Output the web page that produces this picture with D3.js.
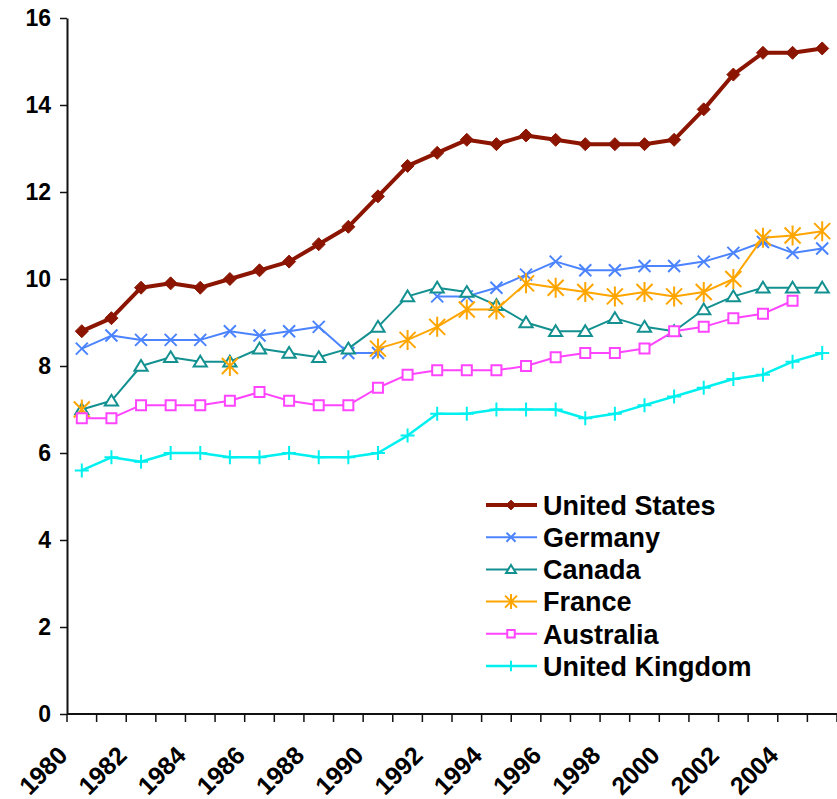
<!DOCTYPE html>
<html>
<head>
<meta charset="utf-8">
<script src="https://cdn.jsdelivr.net/npm/d3@7"></script>
<style>
  html, body { margin: 0; padding: 0; background: #fff; }
  svg { display: block; font-family: "Liberation Sans", Arial, sans-serif; }
</style>
</head>
<body>
<div id="graph"></div>
<script>
// categories
const years = [1980, 1981, 1982, 1983, 1984, 1985, 1986, 1987, 1988, 1989,
               1990, 1991, 1992, 1993, 1994, 1995, 1996, 1997, 1998, 1999,
               2000, 2001, 2002, 2003, 2004, 2005];
const yTicks = [0, 2, 4, 6, 8, 10, 12, 14, 16];
const yearLabels = [1980, 1982, 1984, 1986, 1988, 1990, 1992, 1994, 1996, 1998, 2000, 2002, 2004];

// series values (null = no value for that year)
const unitedStates = [8.8, 9.1, 9.8, 9.9, 9.8, 10.0, 10.2, 10.4, 10.8, 11.2, 11.9, 12.6, 12.9, 13.2, 13.1, 13.3, 13.2, 13.1, 13.1, 13.1, 13.2, 13.9, 14.7, 15.2, 15.2, 15.3];
const germany = [8.4, 8.7, 8.6, 8.6, 8.6, 8.8, 8.7, 8.8, 8.9, 8.3, 8.3, null, 9.6, 9.6, 9.8, 10.1, 10.4, 10.2, 10.2, 10.3, 10.3, 10.4, 10.6, 10.85, 10.6, 10.7];
const canada = [7.0, 7.2, 8.0, 8.2, 8.1, 8.1, 8.4, 8.3, 8.2, 8.4, 8.9, 9.6, 9.8, 9.7, 9.4, 9.0, 8.8, 8.8, 9.1, 8.9, 8.8, 9.3, 9.6, 9.8, 9.8, 9.8];
const france = [7.0, null, null, null, null, 8.0, null, null, null, null, 8.4, 8.6, 8.9, 9.3, 9.3, 9.9, 9.8, 9.7, 9.6, 9.7, 9.6, 9.7, 10.0, 10.95, 11.0, 11.1];
const australia = [6.8, 6.8, 7.1, 7.1, 7.1, 7.2, 7.4, 7.2, 7.1, 7.1, 7.5, 7.8, 7.9, 7.9, 7.9, 8.0, 8.2, 8.3, 8.3, 8.4, 8.8, 8.9, 9.1, 9.2, 9.5, null];
const unitedKingdom = [5.6, 5.9, 5.8, 6.0, 6.0, 5.9, 5.9, 6.0, 5.9, 5.9, 6.0, 6.4, 6.9, 6.9, 7.0, 7.0, 7.0, 6.8, 6.9, 7.1, 7.3, 7.5, 7.7, 7.8, 8.1, 8.3];

const width = 837, height = 799;
const margin = {top: 18, right: 0, bottom: 85, left: 67};

// marker shapes, s = half size
const markers = {
  diamond: s => `M0,${-s}L${s},0L0,${s}L${-s},0Z`,
  cross: s => `M${-s},${-s}L${s},${s}M${-s},${s}L${s},${-s}`,
  triangle: s => `M0,${-s}L${s * 1.1},${s * 0.8}L${-s * 1.1},${s * 0.8}Z`,
  star: s => `M${-s},${-s}L${s},${s}M${-s},${s}L${s},${-s}M0,${-s * 1.25}L0,${s * 1.25}`,
  square: s => `M${-s},${-s}H${s}V${s}H${-s}Z`,
  plus: s => `M${-s},0H${s}M0,${-s}V${s}`
};

const series = [
  {name: "United States", values: unitedStates, color: "#8B1500", width: 4, marker: "diamond", size: 6.5, fill: true},
  {name: "Germany", values: germany, color: "#4C84FF", width: 2, marker: "cross", size: 6, fill: false},
  {name: "Canada", values: canada, color: "#139090", width: 2, marker: "triangle", size: 6, fill: false},
  {name: "France", values: france, color: "#FFA500", width: 2, marker: "star", size: 8, fill: false},
  {name: "Australia", values: australia, color: "#FF44FF", width: 2, marker: "square", size: 5, fill: false},
  {name: "United Kingdom", values: unitedKingdom, color: "#00F0F0", width: 2.5, marker: "plus", size: 7, fill: false}
];

const svg = d3.select("#graph").append("svg")
  .attr("width", width)
  .attr("height", height);

const x = d3.scaleBand()
  .domain(years)
  .range([margin.left, width - margin.right]);

const y = d3.scaleLinear()
  .domain([0, 16])
  .range([height - margin.bottom, margin.top]);

const y0 = y(0);

// y axis
const yAxis = svg.append("g")
  .attr("transform", `translate(${margin.left},0)`)
  .call(d3.axisLeft(y).tickValues(yTicks).tickSize(7).tickSizeOuter(0).tickPadding(9));
yAxis.select(".domain").attr("stroke", "#111").attr("stroke-width", 2);
yAxis.selectAll(".tick line").attr("stroke", "#111").attr("stroke-width", 1.5);
yAxis.selectAll(".tick text")
  .attr("font-size", 23)
  .attr("font-weight", "bold")
  .attr("fill", "#000");

// x axis: ticks on the category boundaries
const xg = svg.append("g");
xg.append("line")
  .attr("x1", margin.left).attr("x2", width - margin.right)
  .attr("y1", y0).attr("y2", y0)
  .attr("stroke", "#111").attr("stroke-width", 2);

const edges = years.map(d => x(d)).concat([x(years[years.length - 1]) + x.bandwidth()]);
xg.selectAll(".xtick")
  .data(edges)
  .enter().append("line")
  .attr("class", "xtick")
  .attr("x1", d => d).attr("x2", d => d)
  .attr("y1", y0).attr("y2", y0 + 8)
  .attr("stroke", "#111").attr("stroke-width", 1.5);

xg.selectAll(".xlabel")
  .data(yearLabels)
  .enter().append("text")
  .attr("class", "xlabel")
  .attr("transform", d => `translate(${x(d) + 2},${y0 + 43}) rotate(-45)`)
  .attr("text-anchor", "end")
  .attr("font-size", 25)
  .attr("font-weight", "bold")
  .text(d => d);

// lines and markers
const cx = (d, i) => x(years[i]) + x.bandwidth() / 2;

series.forEach(s => {
  const line = d3.line()
    .defined(d => d != null)
    .x(cx)
    .y(d => y(d));

  svg.append("path")
    .datum(s.values)
    .attr("fill", "none")
    .attr("stroke", s.color)
    .attr("stroke-width", s.width)
    .attr("stroke-linejoin", "round")
    .attr("d", line);

  svg.append("g")
    .selectAll("path")
    .data(s.values.map((v, i) => ({v: v, i: i})).filter(d => d.v != null))
    .enter().append("path")
    .attr("transform", d => `translate(${cx(d.v, d.i)},${y(d.v)})`)
    .attr("d", markers[s.marker](s.size))
    .attr("fill", s.fill ? s.color : (s.marker === "triangle" || s.marker === "square" ? "#fff" : "none"))
    .attr("stroke", s.color)
    .attr("stroke-width", s.marker === "diamond" ? 1 : 2);
});

// legend
const legend = svg.append("g")
  .attr("transform", "translate(486,505)");

const item = legend.selectAll("g")
  .data(series)
  .enter().append("g")
  .attr("transform", (d, i) => `translate(0,${i * 32.2})`);

item.append("line")
  .attr("x1", 0).attr("x2", 51)
  .attr("stroke", d => d.color)
  .attr("stroke-width", d => d.width);

item.append("path")
  .attr("transform", "translate(25,0)")
  .attr("d", d => markers[d.marker](d.size * 0.75))
  .attr("fill", d => d.fill ? d.color : (d.marker === "triangle" || d.marker === "square" ? "#fff" : "none"))
  .attr("stroke", d => d.color)
  .attr("stroke-width", d => d.marker === "diamond" ? 1 : 2);

item.append("text")
  .attr("x", 57)
  .attr("dy", "0.36em")
  .attr("font-size", 27)
  .attr("font-weight", "bold")
  .attr("fill", "#000")
  .text(d => d.name);
</script>
</body>
</html>
